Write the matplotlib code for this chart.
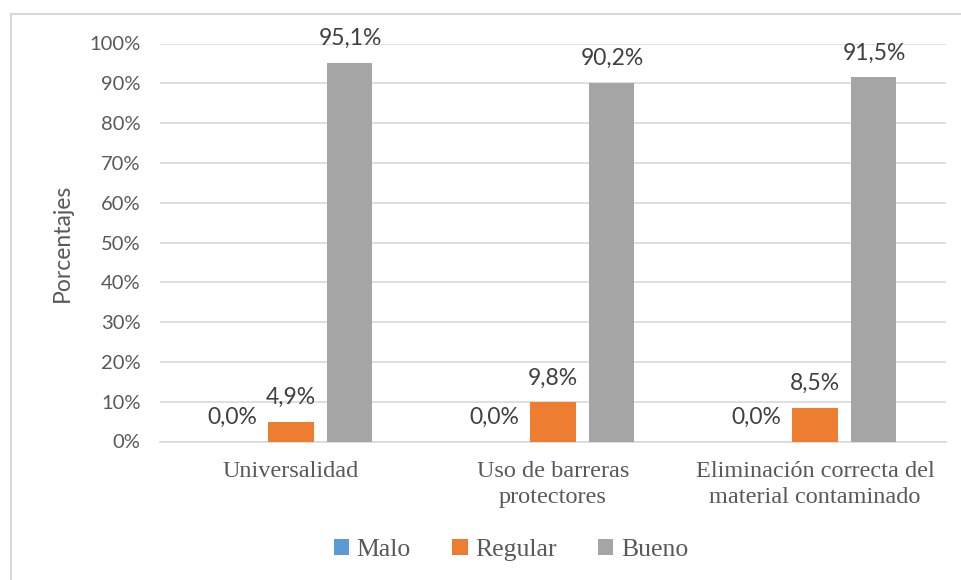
import matplotlib
matplotlib.use("Agg")
import matplotlib.pyplot as plt
from matplotlib.lines import Line2D
from matplotlib.patches import Patch
import numpy as np

# Data
categories = ["Universalidad", "Uso de barreras\nprotectores",
              "Eliminación correcta del\nmaterial contaminado"]
series_names = ["Malo", "Regular", "Bueno"]
malo = [0.0, 0.0, 0.0]
regular = [4.9, 9.8, 8.5]
bueno = [95.1, 90.2, 91.5]
y_ticks = [0, 10, 20, 30, 40, 50, 60, 70, 80, 90, 100]

colors = ["#5B9BD5", "#ED7D31", "#A5A5A5"]
text_color = "#595959"
grid_color = "#D9D9D9"
sans = ["Lato", "DejaVu Sans"]
serif = ["Liberation Serif", "DejaVu Serif"]

fig = plt.figure(figsize=(9.61, 5.80), dpi=100)
ax = fig.add_axes([160 / 961, 1 - 441.5 / 580, (946 - 160) / 961, (441.5 - 43.5) / 580])

x = np.arange(len(categories))
width = 0.172
offset = 0.225
all_series = [malo, regular, bueno]
for i, (vals, col) in enumerate(zip(all_series, colors)):
    pos = x + (i - 1) * offset
    bars = ax.bar(pos, vals, width, color=col, zorder=3)
    for b, v in zip(bars, vals):
        ax.annotate(f"{v:.1f}%".replace(".", ","),
                    (b.get_x() + b.get_width() / 2, v),
                    xytext=(0, 10), textcoords="offset points",
                    ha="center", va="bottom", fontsize=16.5,
                    color="#404040", family=sans)

ax.set_xlim(-0.5, 2.5)
ax.set_ylim(0, 100)
ax.set_yticks(y_ticks)
ax.set_yticklabels([f"{t}%" for t in y_ticks], family=sans, fontsize=14.5, color=text_color)
ax.set_xticks(x)
ax.set_xticklabels(categories, family=serif, fontsize=17.5, color=text_color,
                   linespacing=1.32)
ax.tick_params(axis="both", length=0)
ax.tick_params(axis="x", pad=14)
ax.tick_params(axis="y", pad=14)
ax.yaxis.grid(True, color=grid_color, linewidth=1.2, zorder=0)
for side in ["top", "right", "left"]:
    ax.spines[side].set_visible(False)
ax.spines["bottom"].set_color(grid_color)
ax.spines["bottom"].set_linewidth(1.2)
ax.set_ylabel("Porcentajes", family=sans, fontsize=16.5, color=text_color, labelpad=12)

handles = [Patch(facecolor=c, edgecolor="none") for c in colors]
fig.legend(handles, series_names, loc="center", bbox_to_anchor=(511 / 961, 1 - 550 / 580),
           ncol=3, frameon=False, prop={"family": serif, "size": 18.5},
           labelcolor=text_color, handlelength=0.6, handleheight=0.6,
           handletextpad=0.3, columnspacing=1.6)

# Chart area frame (left and top edges)
fig.add_artist(Line2D([10.5 / 961, 10.5 / 961], [0, 1 - 14 / 580], transform=fig.transFigure,
                      color=grid_color, linewidth=1.5))
fig.add_artist(Line2D([10.5 / 961, 1], [1 - 14 / 580, 1 - 14 / 580], transform=fig.transFigure,
                      color=grid_color, linewidth=1.5))

fig.savefig("out.png", dpi=100)
